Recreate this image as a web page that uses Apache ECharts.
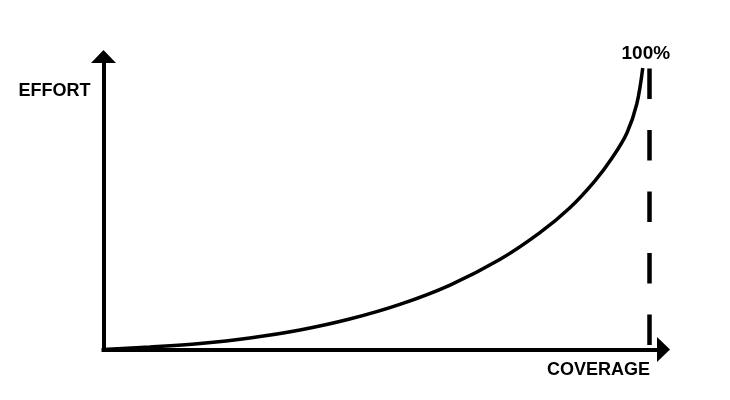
<!DOCTYPE html>
<html>
<head>
<meta charset="utf-8">
<title>Effort vs Coverage</title>
<script src="https://cdn.jsdelivr.net/npm/echarts@6/dist/echarts.min.js"></script>
<style>
  html, body { margin: 0; padding: 0; background: #fff; }
  #chart { width: 730px; height: 400px; }
</style>
</head>
<body>
<div id="chart"></div>
<script>
// coverage in % (100 = dashed line), effort in arbitrary units
const coverage = [0, 8.5, 17.7, 26.8, 36, 45.1, 54.3, 63.5, 72.6, 79.9, 85.4, 90, 93.3, 95.9, 97.7, 98.8]
const effort = [0, 0.85, 2.05, 3.93, 6.66, 10.4, 15.4, 22, 30.7, 39.8, 48.3, 57.5, 65.7, 73.9, 83.8, 96.1]
const limitX = 100
const limitLabel = '100%'
const xName = 'COVERAGE'
const yName = 'EFFORT'

const font = '"Liberation Sans", Arial, sans-serif'
const axisLine = {
  show: true,
  symbol: ['none', 'triangle'],
  symbolSize: [25, 13],
  lineStyle: { color: '#000', width: 4, cap: 'square' }
}

const chart = echarts.init(document.getElementById('chart'))
const option = {
  animation: false,
  grid: { left: 103.5, right: 66.5, top: 56.5, bottom: 50.5 },
  xAxis: {
    type: 'value',
    min: 0,
    max: 102.6,
    name: xName,
    nameLocation: 'end',
    nameGap: -13.5,
    nameTextStyle: {
      fontFamily: font, fontWeight: 'bold', fontSize: 18, color: '#000',
      align: 'right', verticalAlign: 'top', lineHeight: 18, padding: [11.5, 0, 0, 0]
    },
    axisLine: axisLine,
    axisTick: { show: false },
    axisLabel: { show: false },
    splitLine: { show: false }
  },
  yAxis: {
    type: 'value',
    min: 0,
    max: 100,
    name: yName,
    nameLocation: 'end',
    nameGap: -34.2,
    nameTextStyle: {
      fontFamily: font, fontWeight: 'bold', fontSize: 18, color: '#000',
      align: 'right', verticalAlign: 'middle', padding: [0, 13, 0, 0]
    },
    axisLine: axisLine,
    axisTick: { show: false },
    axisLabel: { show: false },
    splitLine: { show: false }
  },
  series: [
    {
      type: 'line',
      data: coverage.map((c, i) => [c, effort[i]]),
      smooth: 0.35,
      showSymbol: false,
      lineStyle: { color: '#000', width: 3.5 },
      markLine: {
        silent: true,
        symbol: ['none', 'none'],
        lineStyle: { color: '#000', width: 4.5, type: [30.5, 31], cap: 'butt' },
        label: {
          show: true,
          position: 'end',
          formatter: limitLabel,
          fontFamily: font, fontWeight: 'bold', fontSize: 19, color: '#000',
          offset: [-3.5, 0]
        },
        data: [[{ coord: [limitX, 1.5] }, { coord: [limitX, 96.1] }]]
      }
    }
  ]
}
chart.setOption(option)
window.addEventListener('resize', function () {
  chart.resize()
})
</script>
</body>
</html>
